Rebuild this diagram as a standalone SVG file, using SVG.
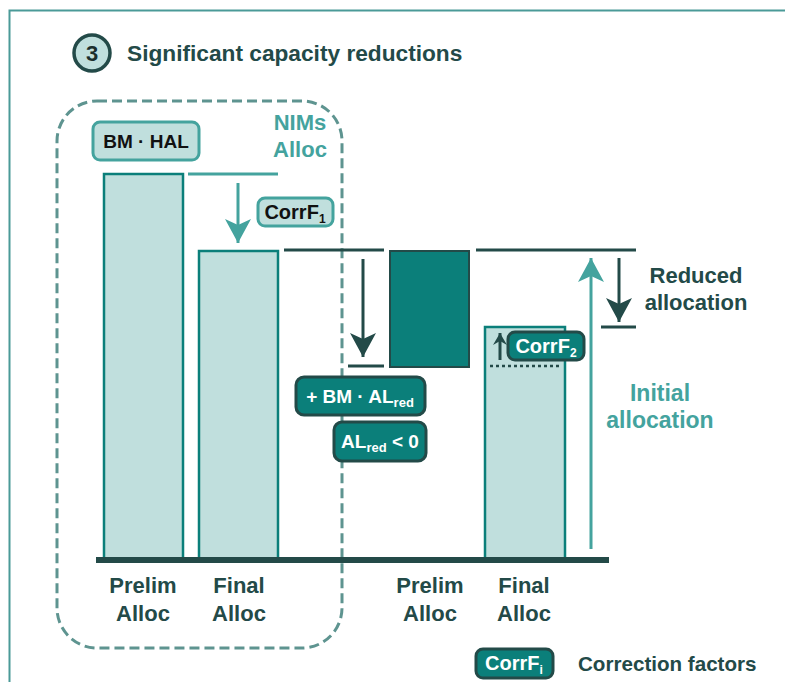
<svg xmlns="http://www.w3.org/2000/svg" width="785" height="682" viewBox="0 0 785 682">
<defs>
<style>
text{font-family:"Liberation Sans",Arial,sans-serif;font-weight:bold}
.lbl{font-size:22px;fill:#234a48;text-anchor:middle}
.teal{fill:#44a39e}
.lightbar{fill:#c0dfdd;stroke:#0b7f7a;stroke-width:2.5}
.lightbox{fill:#c0dfdd;stroke:#44a39e;stroke-width:3}
.darkbox{fill:#0b7f7a;stroke:#234a48;stroke-width:3}
.wt{fill:#ffffff;font-size:20px;text-anchor:middle}
.bt{fill:#111111;font-size:20px;text-anchor:middle}
.dl{stroke:#234a48;stroke-width:3;fill:none}
.tl{stroke:#44a39e;stroke-width:3;fill:none}
</style>
<marker id="ahDark" viewBox="0 0 12 14" refX="12" refY="7" markerWidth="12" markerHeight="14" markerUnits="userSpaceOnUse" orient="auto"><path d="M0,0 L12,7 L0,14 L4,7 Z" fill="#234a48"/></marker>
<marker id="ahTealL" viewBox="0 0 24 26" refX="24" refY="13" markerWidth="24" markerHeight="26" markerUnits="userSpaceOnUse" orient="auto"><path d="M0,0 L24,13 L0,26 L6,13 Z" fill="#44a39e"/></marker>
<marker id="ahDarkL" viewBox="0 0 24 26" refX="24" refY="13" markerWidth="24" markerHeight="26" markerUnits="userSpaceOnUse" orient="auto"><path d="M0,0 L24,13 L0,26 L6,13 Z" fill="#234a48"/></marker>
</defs>
<rect width="785" height="682" fill="#ffffff"/>
<rect x="9.5" y="10.5" width="800" height="700" fill="none" stroke="#4a9a98" stroke-width="2"/>

<g id="title">
<circle cx="92" cy="53" r="18" fill="#c0dfdd" stroke="#234a48" stroke-width="3.5"/>
<text x="92" y="61" font-size="22" fill="#1a2e2c" text-anchor="middle">3</text>
<text x="127" y="61" font-size="22.7" fill="#234a48">Significant capacity reductions</text>
</g>

<g id="nims">
<rect x="57" y="101" width="285" height="547" rx="40" fill="none" stroke="#5e9490" stroke-width="3" stroke-dasharray="10,5"/>
<text x="300" y="130" font-size="22" class="teal" text-anchor="middle">NIMs</text>
<text x="300" y="157" font-size="22" class="teal" text-anchor="middle">Alloc</text>
</g>

<g id="bar-prelim-1">
<rect class="lightbar" x="104" y="174" width="79" height="386"/>
</g>
<g id="bar-final-1">
<rect class="lightbar" x="199" y="251" width="79" height="309"/>
</g>
<g id="bar-prelim-2">
<rect x="390" y="251" width="79" height="116" fill="#0b7f7a" stroke="#234a48" stroke-width="2"/>
</g>
<g id="bar-final-2">
<rect class="lightbar" x="485" y="327" width="80" height="233"/>
<line x1="490" y1="366" x2="560" y2="366" stroke="#234a48" stroke-width="2.5" stroke-dasharray="3,3"/>
</g>

<g id="connectors">
<line class="tl" x1="188" y1="174" x2="278" y2="174"/>
<line class="tl" x1="238" y1="183" x2="238" y2="243" marker-end="url(#ahTealL)"/>
<line class="dl" x1="284" y1="250" x2="384" y2="250"/>
<line class="dl" x1="363" y1="259" x2="363" y2="357" marker-end="url(#ahDarkL)"/>
<line class="dl" x1="348" y1="366" x2="384" y2="366"/>
<line class="dl" x1="476" y1="250" x2="636" y2="250"/>
<line class="dl" x1="500" y1="360" x2="500" y2="333" marker-end="url(#ahDark)"/>
<line class="tl" x1="591" y1="549" x2="591" y2="258" marker-end="url(#ahTealL)"/>
<line class="dl" x1="619" y1="258" x2="619" y2="322" marker-end="url(#ahDarkL)"/>
<line class="dl" x1="601" y1="327" x2="636" y2="327"/>
<line x1="96" y1="560" x2="609" y2="560" stroke="#234a48" stroke-width="6"/>
</g>

<g id="bm-hal">
<rect class="lightbox" x="93" y="122" width="106" height="38" rx="7"/>
<text class="bt" x="146" y="148" style="font-size:19px">BM · HAL</text>
</g>
<g id="corrf1">
<rect class="lightbox" x="258" y="198" width="75" height="28" rx="7"/>
<text class="bt" x="295" y="219">CorrF<tspan font-size="12" dy="4">1</tspan></text>
</g>
<g id="bm-alred">
<rect class="darkbox" x="296" y="377" width="129" height="38" rx="8"/>
<text class="wt" x="360" y="403" style="font-size:19px">+ BM · AL<tspan style="font-size:13px" dy="4">red</tspan></text>
</g>
<g id="alred-lt0">
<rect class="darkbox" x="334" y="422" width="92" height="39" rx="8"/>
<text class="wt" x="380" y="448" style="font-size:19px">AL<tspan style="font-size:13px" dy="4">red</tspan><tspan dy="-4"> &lt; 0</tspan></text>
</g>
<g id="corrf2">
<rect class="darkbox" x="508" y="332" width="76" height="28" rx="7"/>
<text class="wt" x="546" y="353">CorrF<tspan font-size="12" dy="4">2</tspan></text>
</g>

<g id="reduced">
<text class="lbl" x="696" y="283">Reduced</text>
<text class="lbl" x="696" y="310">allocation</text>
</g>
<g id="initial">
<text class="lbl" x="660" y="401" style="fill:#44a39e;font-size:23px">Initial</text>
<text class="lbl" x="660" y="428" style="fill:#44a39e;font-size:23px">allocation</text>
</g>

<g id="axis-labels">
<text class="lbl" x="143" y="593">Prelim</text>
<text class="lbl" x="143" y="621">Alloc</text>
<text class="lbl" x="239" y="593">Final</text>
<text class="lbl" x="239" y="621">Alloc</text>
<text class="lbl" x="430" y="593">Prelim</text>
<text class="lbl" x="430" y="621">Alloc</text>
<text class="lbl" x="524" y="593">Final</text>
<text class="lbl" x="524" y="621">Alloc</text>
</g>

<g id="legend">
<rect class="darkbox" x="476" y="649" width="77" height="29" rx="7"/>
<text class="wt" x="514" y="670">CorrF<tspan font-size="12" dy="4">i</tspan></text>
<text x="578" y="671" font-size="20.6" fill="#234a48">Correction factors</text>
</g>
</svg>
